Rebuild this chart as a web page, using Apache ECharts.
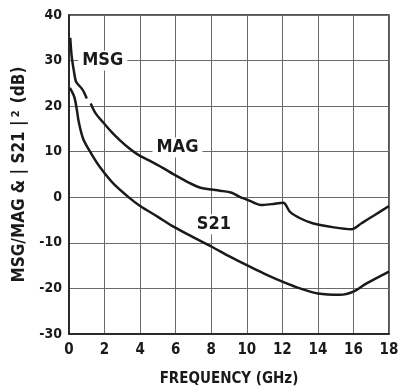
<!DOCTYPE html>
<html>
<head>
<meta charset="utf-8">
<script src="https://cdn.jsdelivr.net/npm/echarts@6/dist/echarts.min.js"></script>
<style>
  html, body { margin: 0; padding: 0; background: #fff; }
  #chart { width: 399px; height: 389px; }
</style>
</head>
<body>
<div id="chart"></div>
<script>
'use strict';

// frequency (GHz), gain (dB)
var msgPoints = [[0.07, 35], [0.15, 31], [0.28, 27.6], [0.39, 25.4], [0.55, 24.6], [0.71, 23.9], [0.85, 23], [1.0, 21.7]];
var magPoints = [
    [1.22, 20.6], [1.5, 18.4], [1.93, 16.4], [2.4, 14.3], [2.87, 12.5], [3.4, 10.7], [3.9, 9.3],
    [4.5, 8.1], [5.3, 6.4], [5.9, 5], [6.6, 3.5], [7.4, 2.1], [8.5, 1.45], [9.15, 1.0], [9.6, 0.1],
    [10, -0.5], [10.4, -1.2], [10.8, -1.7], [11.4, -1.5], [12.05, -1.2], [12.43, -3.2], [13, -4.6],
    [13.7, -5.7], [14.9, -6.6], [15.9, -7], [16.45, -5.7], [17.2, -3.9], [18, -1.9]
];
var s21Points = [
    [0.05, 24], [0.3, 22], [0.45, 19], [0.55, 16.5], [0.8, 12.8], [1.25, 9.6], [1.8, 6.3], [2.5, 3],
    [3.45, -0.3], [4, -1.9], [5, -4.3], [5.9, -6.5], [7, -8.8], [8, -10.8], [9, -12.9], [10, -14.9],
    [11, -16.8], [12, -18.5], [13, -20], [14, -21.1], [15.24, -21.4], [16, -20.7], [16.74, -18.9], [18, -16.3]
];
var curveNames = [[1.9, 30, 'MSG'], [6.1, 10.9, 'MAG'], [8.15, -5.9, 'S21']];
var xTicks = {min: 0, max: 18, step: 2};
var yTicks = {min: -30, max: 40, step: 10};

var font = "'Liberation Sans Narrow', 'DejaVu Sans Condensed', 'Liberation Sans', sans-serif";
var ink = '#1a1a1a';

var chart = echarts.init(document.getElementById('chart'), null, {renderer: 'canvas'});

function curve(name, pts) {
    return {
        name: name, type: 'line', data: pts, symbol: 'none', smooth: 0.3,
        lineStyle: {color: ink, width: 2.5}, z: 3
    };
}

var option = {
    animation: false,
    backgroundColor: '#fff',
    grid: {
        left: 69, right: 10, top: 15, bottom: 55, outerBoundsMode: 'none', containLabel: false,
        show: true, borderColor: ink, borderWidth: 1.5, backgroundColor: 'transparent'
    },
    xAxis: {
        type: 'value', min: xTicks.min, max: xTicks.max, interval: xTicks.step,
        name: 'FREQUENCY (GHz)', nameLocation: 'middle', nameGap: 38,
        nameTextStyle: {fontFamily: font, fontWeight: 'bold', fontSize: 15, color: ink},
        axisLine: {onZero: false, lineStyle: {color: ink, width: 1.5}},
        axisTick: {show: false},
        axisLabel: {fontFamily: font, fontWeight: 'bold', fontSize: 15, color: ink, margin: 9},
        splitLine: {lineStyle: {color: '#6a6a6a', width: 1}}
    },
    yAxis: {
        type: 'value', min: yTicks.min, max: yTicks.max, interval: yTicks.step,
        name: '{t|MSG/MAG & | S21 |}{s|2}{t| (dB)}', nameLocation: 'middle', nameGap: 36,
        nameTextStyle: {
            rich: {
                t: {fontFamily: font, fontWeight: 'bold', fontSize: 17, color: ink},
                s: {fontFamily: font, fontWeight: 'bold', fontSize: 11, color: ink, verticalAlign: 'top', padding: [0, 2, 8, 3]}
            }
        },
        axisLine: {onZero: false, lineStyle: {color: ink, width: 1.5}},
        axisTick: {show: false},
        axisLabel: {fontFamily: font, fontWeight: 'bold', fontSize: 14, color: ink, margin: 7},
        splitLine: {lineStyle: {color: '#6a6a6a', width: 1}}
    },
    series: [
        curve('MSG', msgPoints),
        curve('MAG', magPoints),
        curve('S21', s21Points),
        {
            type: 'scatter', data: curveNames, symbolSize: 0, z: 4,
            itemStyle: {opacity: 1, color: 'transparent'},
            label: {
                show: true, position: 'inside',
                formatter: p => p.data[2],
                fontFamily: font, fontWeight: 'bold', fontSize: 18, color: ink,
                backgroundColor: '#fff', padding: [1, 4]
            }
        }
    ]
};
chart.setOption(option);
</script>
</body>
</html>
